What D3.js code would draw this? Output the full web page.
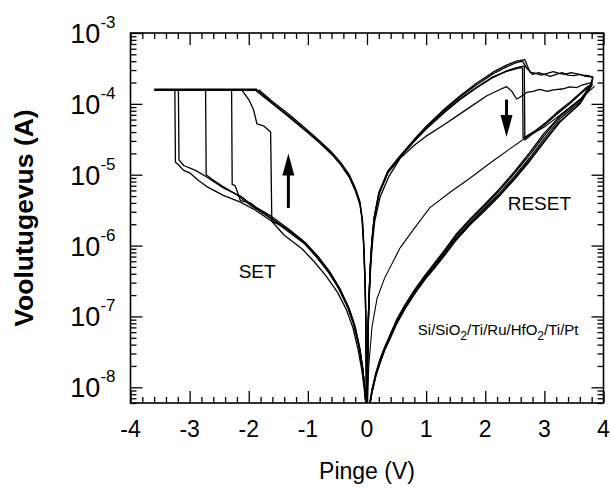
<!DOCTYPE html>
<html><head><meta charset="utf-8">
<script src="https://cdn.jsdelivr.net/npm/d3@7/dist/d3.min.js"></script>
<style>
body{margin:0;background:#fff}
text{font-family:"Liberation Sans",Arial,Helvetica,sans-serif;fill:#000}
</style></head>
<body><svg id="chart" width="611" height="490"></svg>
<script>
// ---------- tick labels ----------
const xTickValues = [-4,-3,-2,-1,0,1,2,3,4];
const yTickExponents = [-3,-4,-5,-6,-7,-8];

// ---------- data: [voltage V, current A] ----------
const compliance = [[-3.6,1.58e-4],[-1.86,1.58e-4]];

// SET sweeps (HRS, 0 -> negative) ending with abrupt/gradual jump to compliance
const setA = [[-0.02,6e-9],[-0.05,1.0e-8],[-0.09,1.8e-8],[-0.15,3.4e-8],[-0.24,7.0e-8],[-0.35,1.25e-7],[-0.5,2.2e-7],[-0.7,3.8e-7],[-0.9,6.0e-7],[-1.1,9.0e-7],[-1.4,1.4e-6],[-1.61,2.2e-6],[-1.9,3.2e-6],[-2.14,4.1e-6],[-2.43,5.1e-6],[-2.71,6.8e-6],[-2.85,8.3e-6],[-2.99,1.05e-5],[-3.1,1.15e-5],[-3.19,1.38e-5],[-3.24,1.5e-5],[-3.25,1.58e-4]];
const setB = [[-0.02,6e-9],[-0.04,1.0e-8],[-0.07,1.8e-8],[-0.12,3.5e-8],[-0.2,7.1e-8],[-0.3,1.26e-7],[-0.45,2.3e-7],[-0.62,4.0e-7],[-0.8,6.3e-7],[-1.02,1.02e-6],[-1.3,1.58e-6],[-1.61,2.4e-6],[-1.9,3.5e-6],[-2.14,5.0e-6],[-2.43,6.5e-6],[-2.71,9.3e-6],[-2.9,1.15e-5],[-3.1,1.35e-5],[-3.18,1.62e-5],[-3.19,1.58e-4]];
const setC = [[-0.02,6e-9],[-0.045,1.1e-8],[-0.08,2.0e-8],[-0.13,3.6e-8],[-0.22,7.5e-8],[-0.32,1.3e-7],[-0.47,2.4e-7],[-0.65,4.2e-7],[-0.85,6.8e-7],[-1.05,1.05e-6],[-1.35,1.62e-6],[-1.65,2.5e-6],[-1.95,3.6e-6],[-2.2,5.2e-6],[-2.45,6.9e-6],[-2.62,8.6e-6],[-2.72,1.0e-5],[-2.73,1.58e-4]];
const setD = [[-0.02,6e-9],[-0.04,1.05e-8],[-0.075,1.9e-8],[-0.125,3.6e-8],[-0.21,7.6e-8],[-0.31,1.35e-7],[-0.46,2.5e-7],[-0.63,4.3e-7],[-0.82,6.9e-7],[-1.04,1.1e-6],[-1.32,1.7e-6],[-1.62,2.6e-6],[-1.86,3.4e-6],[-1.97,4.0e-6],[-2.14,4.3e-6],[-2.17,5.1e-6],[-2.23,7.0e-6],[-2.28,7.3e-6],[-2.29,1.58e-4]];
const setE = [[-0.02,6e-9],[-0.05,1.2e-8],[-0.085,2.1e-8],[-0.14,4.0e-8],[-0.23,8.0e-8],[-0.34,1.45e-7],[-0.5,2.7e-7],[-0.68,4.6e-7],[-0.88,7.4e-7],[-1.1,1.2e-6],[-1.35,1.7e-6],[-1.5,2.0e-6],[-1.61,2.2e-6],[-1.63,4.0e-5],[-1.75,4.9e-5],[-1.86,5.2e-5],[-1.92,8.3e-5],[-2.0,1.15e-4],[-2.12,1.58e-4]];

// LRS return branches (negative side, compliance -> 0)
const onNegA = [[-1.86,1.58e-4],[-1.6,1.03e-4],[-1.3,6.5e-5],[-1.0,4.0e-5],[-0.8,2.9e-5],[-0.6,2.0e-5],[-0.45,1.45e-5],[-0.3,9.5e-6],[-0.2,6.3e-6],[-0.12,4.0e-6],[-0.08,2.3e-6],[-0.055,1.0e-6],[-0.035,3.5e-7],[-0.02,1.0e-7],[-0.008,6e-9]];
const onNegB = [[-1.83,1.58e-4],[-1.6,1.08e-4],[-1.3,6.9e-5],[-1.0,4.2e-5],[-0.8,3.0e-5],[-0.6,2.1e-5],[-0.45,1.5e-5],[-0.3,1.0e-5],[-0.2,6.6e-6],[-0.12,4.2e-6],[-0.075,2.2e-6],[-0.05,9.0e-7],[-0.03,3.0e-7],[-0.017,8.0e-8],[-0.006,6e-9]];
const onNegC = [[-1.9,1.58e-4],[-1.6,1.0e-4],[-1.3,6.3e-5],[-1.0,3.9e-5],[-0.8,2.8e-5],[-0.6,1.95e-5],[-0.45,1.4e-5],[-0.3,9.2e-6],[-0.2,6.0e-6],[-0.12,3.8e-6],[-0.085,2.4e-6],[-0.06,1.1e-6],[-0.04,4.0e-7],[-0.022,1.1e-7],[-0.01,6e-9]];

// RESET sweeps (0 -> +3.8 V -> 0)
const reset1 = [[0.003,6e-9],[0.01,2.5e-8],[0.02,8e-8],[0.035,2e-7],[0.055,5e-7],[0.08,1.12e-6],[0.12,2.5e-6],[0.2,5.6e-6],[0.35,1.12e-5],[0.56,1.86e-5],[0.8,3.16e-5],[1.0,4.8e-5],[1.3,8.3e-5],[1.57,1.29e-4],[1.85,1.95e-4],[2.13,2.8e-4],[2.35,3.5e-4],[2.53,4.0e-4],[2.67,4.2e-4],[2.72,3.3e-4],[2.76,2.8e-4],[2.85,2.7e-4],[2.95,2.55e-4],[3.05,2.7e-4],[3.15,2.85e-4],[3.25,2.7e-4],[3.35,2.6e-4],[3.45,2.75e-4],[3.55,2.65e-4],[3.65,2.55e-4],[3.75,2.5e-4],[3.82,2.35e-4],[3.8,1.9e-4],[3.6,1.12e-4],[3.26,6.6e-5],[3.0,3.6e-5],[2.75,1.9e-5],[2.5,1.06e-5],[2.24,6.0e-6],[2.0,3.7e-6],[1.74,2.25e-6],[1.5,1.35e-6],[1.32,8.4e-7],[1.15,5.6e-7],[0.98,3.7e-7],[0.8,2.25e-7],[0.64,1.4e-7],[0.5,8.6e-8],[0.39,5.3e-8],[0.3,3.6e-8],[0.22,2.4e-8],[0.15,1.55e-8],[0.084,9e-9],[0.05,6e-9]];
const reset2 = [[0.004,6e-9],[0.012,2.8e-8],[0.022,8.5e-8],[0.037,2.1e-7],[0.058,5.2e-7],[0.085,1.15e-6],[0.125,2.5e-6],[0.21,5.5e-6],[0.36,1.1e-5],[0.57,1.8e-5],[0.8,3.05e-5],[1.0,4.6e-5],[1.3,8.0e-5],[1.57,1.24e-4],[1.85,1.85e-4],[2.13,2.65e-4],[2.35,3.3e-4],[2.52,3.8e-4],[2.63,4.0e-4],[2.7,3.2e-4],[2.8,2.6e-4],[2.9,2.75e-4],[3.0,2.6e-4],[3.1,2.45e-4],[3.2,2.6e-4],[3.3,2.75e-4],[3.4,2.55e-4],[3.5,2.5e-4],[3.6,2.6e-4],[3.7,2.45e-4],[3.82,2.4e-4],[3.78,1.85e-4],[3.6,1.0e-4],[3.26,5.5e-5],[3.0,2.9e-5],[2.75,1.55e-5],[2.5,8.7e-6],[2.24,5.0e-6],[2.0,3.15e-6],[1.74,1.95e-6],[1.5,1.17e-6],[1.32,7.4e-7],[1.15,4.9e-7],[0.98,3.3e-7],[0.8,2.05e-7],[0.64,1.27e-7],[0.5,7.8e-8],[0.39,4.9e-8],[0.3,3.35e-8],[0.22,2.2e-8],[0.15,1.45e-8],[0.084,8.5e-9],[0.055,6e-9]];
const reset3 = [[0.005,6e-9],[0.013,2.6e-8],[0.024,8e-8],[0.04,2.0e-7],[0.062,4.8e-7],[0.09,1.05e-6],[0.13,2.2e-6],[0.22,4.8e-6],[0.37,9.5e-6],[0.56,1.7e-5],[0.8,2.6e-5],[1.0,3.5e-5],[1.29,5.0e-5],[1.68,8.3e-5],[2.02,1.29e-4],[2.24,1.58e-4],[2.36,1.75e-4],[2.45,1.5e-4],[2.53,1.17e-4],[2.58,1.23e-4],[2.7,1.45e-4],[2.81,1.5e-4],[2.92,1.6e-4],[3.05,1.5e-4],[3.15,1.58e-4],[3.3,1.62e-4],[3.43,1.74e-4],[3.55,1.7e-4],[3.65,1.86e-4],[3.8,2.0e-4],[3.79,1.75e-4],[3.62,1.18e-4],[3.3,7.2e-5],[3.0,3.9e-5],[2.75,2.05e-5],[2.5,1.12e-5],[2.24,6.3e-6],[2.0,3.9e-6],[1.74,2.35e-6],[1.5,1.42e-6],[1.32,8.8e-7],[1.15,5.8e-7],[0.98,3.8e-7],[0.8,2.35e-7],[0.64,1.45e-7],[0.5,9.0e-8],[0.39,5.5e-8],[0.3,3.7e-8],[0.22,2.5e-8],[0.15,1.6e-8],[0.084,9.3e-9],[0.045,6e-9]];
const reset4 = [[0.004,6e-9],[0.011,2.6e-8],[0.021,8e-8],[0.036,2e-7],[0.056,5e-7],[0.082,1.1e-6],[0.12,2.4e-6],[0.2,5.4e-6],[0.35,1.08e-5],[0.56,1.8e-5],[0.8,3.0e-5],[1.0,4.5e-5],[1.3,7.6e-5],[1.57,1.17e-4],[1.85,1.7e-4],[2.13,2.4e-4],[2.35,2.85e-4],[2.5,3.1e-4],[2.6,3.25e-4],[2.63,3.2e-4],[2.64,3.3e-5],[2.7,3.5e-5],[2.85,4.2e-5],[3.03,5.5e-5],[3.2,7.4e-5],[3.43,1.05e-4],[3.6,1.4e-4],[3.71,1.7e-4],[3.8,1.9e-4],[3.78,1.8e-4],[3.6,1.06e-4],[3.26,6.1e-5],[3.0,3.25e-5],[2.75,1.72e-5],[2.5,9.6e-6],[2.24,5.5e-6],[2.0,3.45e-6],[1.74,2.1e-6],[1.5,1.27e-6],[1.32,8.0e-7],[1.15,5.35e-7],[0.98,3.55e-7],[0.8,2.18e-7],[0.64,1.35e-7],[0.5,8.3e-8],[0.39,5.1e-8],[0.3,3.5e-8],[0.22,2.3e-8],[0.15,1.5e-8],[0.084,8.7e-9],[0.05,6e-9]];
const reset5 = [[0.003,6e-9],[0.01,2.4e-8],[0.02,7.6e-8],[0.034,1.9e-7],[0.054,4.8e-7],[0.08,1.08e-6],[0.12,2.35e-6],[0.2,5.3e-6],[0.35,1.05e-5],[0.56,1.75e-5],[0.8,2.95e-5],[1.0,4.4e-5],[1.3,7.4e-5],[1.57,1.14e-4],[1.85,1.68e-4],[2.13,2.35e-4],[2.35,2.9e-4],[2.5,3.2e-4],[2.6,3.35e-4],[2.66,3.4e-4],[2.67,3.1e-5],[2.8,3.8e-5],[3.0,5.0e-5],[3.2,7.0e-5],[3.43,1.0e-4],[3.6,1.35e-4],[3.72,1.65e-4],[3.81,1.85e-4],[3.79,1.76e-4],[3.6,1.0e-4],[3.26,5.6e-5],[3.0,3.0e-5],[2.75,1.6e-5],[2.5,9.0e-6],[2.24,5.2e-6],[2.0,3.3e-6],[1.74,2.0e-6],[1.5,1.22e-6],[1.32,7.6e-7],[1.15,5.1e-7],[0.98,3.45e-7],[0.8,2.1e-7],[0.64,1.3e-7],[0.5,8.0e-8],[0.39,4.9e-8],[0.3,3.4e-8],[0.22,2.2e-8],[0.15,1.45e-8],[0.084,8.5e-9],[0.052,6e-9]];
// thin HRS sweep from origin to +3.85 V
const hrsThin = [[0.008,6e-9],[0.03,2.0e-8],[0.084,7.1e-8],[0.17,1.8e-7],[0.3,3.5e-7],[0.56,9.3e-7],[0.8,1.75e-6],[1.06,3.4e-6],[1.4,5.6e-6],[1.74,8.9e-6],[2.1,1.5e-5],[2.41,2.3e-5],[2.7,3.4e-5],[3.0,4.7e-5],[3.3,7.3e-5],[3.6,1.15e-4],[3.85,1.78e-4]];

// annotation anchors (data coordinates)
const arrowSet = [[-1.33,3.4e-6],[-1.33,2.0e-5]];
const arrowReset = [[2.36,1.15e-4],[2.36,3.4e-5]];

// ---------- scales ----------
const svg = d3.select("#chart");
const L=130.5, R=603.5, T=33, B=403;
const x = d3.scaleLinear().domain([-4,4]).range([L,R]);
const y = d3.scaleLog().domain([6e-9,1e-3]).range([B,T]);

// ---------- axes ----------
const xMinor = d3.range(-40,41,2).map(v=>v/10).filter(v=>Math.abs(v-Math.round(v))>1e-6);
const yMinor = [];
for (let e=-9;e<=-4;e++) for (let k=2;k<=9;k++){const v=k*Math.pow(10,e); if(v>=6e-9&&v<=1e-3) yMinor.push(v);}
const yMajor = yTickExponents.map(e=>Math.pow(10,e));

function styleAxis(g){ g.select(".domain").remove(); g.selectAll("line").attr("stroke","#000").attr("stroke-width",1.3); g.selectAll("text").remove(); }
svg.append("g").attr("transform",`translate(0,${B})`).call(d3.axisBottom(x).tickValues(xTickValues).tickSize(-12)).call(styleAxis);
svg.append("g").attr("transform",`translate(0,${B})`).call(d3.axisBottom(x).tickValues(xMinor).tickSize(-6)).call(styleAxis);
svg.append("g").attr("transform",`translate(0,${T})`).call(d3.axisTop(x).tickValues(xTickValues).tickSize(-12)).call(styleAxis);
svg.append("g").attr("transform",`translate(0,${T})`).call(d3.axisTop(x).tickValues(xMinor).tickSize(-6)).call(styleAxis);
svg.append("g").attr("transform",`translate(${L},0)`).call(d3.axisLeft(y).tickValues(yMajor).tickSize(-12)).call(styleAxis);
svg.append("g").attr("transform",`translate(${L},0)`).call(d3.axisLeft(y).tickValues(yMinor).tickSize(-6)).call(styleAxis);
svg.append("g").attr("transform",`translate(${R},0)`).call(d3.axisRight(y).tickValues(yMajor).tickSize(-12)).call(styleAxis);
svg.append("g").attr("transform",`translate(${R},0)`).call(d3.axisRight(y).tickValues(yMinor).tickSize(-6)).call(styleAxis);
svg.append("rect").attr("x",L).attr("y",T).attr("width",R-L).attr("height",B-T).attr("fill","none").attr("stroke","#000").attr("stroke-width",1.6);

// tick labels
svg.append("g").selectAll("text").data(xTickValues).join("text")
  .attr("x",d=>x(d)).attr("y",B+34).attr("text-anchor","middle").attr("font-size",23).text(d=>String(d));
const yl = svg.append("g").selectAll("text").data(yTickExponents).join("text")
  .attr("x",L-15).attr("y",d=>y(Math.pow(10,d))+10).attr("text-anchor","end").attr("font-size",27);
yl.append("tspan").text("10");
yl.append("tspan").attr("dy",-15).attr("font-size",17).text(d=>String(d));

// axis titles
svg.append("text").attr("x",x(0)).attr("y",479).attr("text-anchor","middle").attr("font-size",23).text("Pinge (V)");
svg.append("text").attr("transform","rotate(-90)").attr("x",-218).attr("y",33).attr("text-anchor","middle")
  .attr("font-size",26.5).attr("font-weight","bold").text("Voolutugevus (A)");

// ---------- curves ----------
const line = d3.line().x(d=>x(d[0])).y(d=>y(d[1]));
const plot = svg.append("g");
[setA,setB,setC,setD,setE,onNegA,onNegB,onNegC,reset1,reset2,reset3,reset4,reset5].forEach(s=>{
  plot.append("path").datum(s).attr("d",line).attr("fill","none").attr("stroke","#000").attr("stroke-width",1.3).attr("stroke-linejoin","round");
});
plot.append("path").datum(hrsThin).attr("d",line).attr("fill","none").attr("stroke","#000").attr("stroke-width",1.1);
plot.append("path").datum(compliance).attr("d",line).attr("fill","none").attr("stroke","#000").attr("stroke-width",2.6);

// ---------- arrows ----------
function arrow(pts){
  const x0=x(pts[0][0]), y0=y(pts[0][1]), y1=y(pts[1][1]);
  const dir = y1<y0 ? 1 : -1; // 1 = upward
  const headLen=22, headW=6;
  svg.append("line").attr("x1",x0).attr("x2",x0).attr("y1",y0).attr("y2",y1+dir*headLen*0.8).attr("stroke","#000").attr("stroke-width",3);
  svg.append("path").attr("d",`M${x0},${y1} L${x0-headW},${y1+dir*headLen} L${x0+headW},${y1+dir*headLen} Z`).attr("fill","#000");
}
arrow(arrowSet); arrow(arrowReset);

// ---------- labels ----------
svg.append("text").attr("x",x(-2.17)).attr("y",y(3.5e-7)).attr("font-size",19).text("SET");
svg.append("text").attr("x",x(2.38)).attr("y",y(3.2e-6)).attr("font-size",19).text("RESET");
const st = svg.append("text").attr("x",x(0.86)).attr("y",y(5.5e-8)).attr("font-size",15);
st.append("tspan").text("Si/SiO");
st.append("tspan").attr("dy",5).attr("font-size",12).text("2");
st.append("tspan").attr("dy",-5).text("/Ti/Ru/HfO");
st.append("tspan").attr("dy",5).attr("font-size",12).text("2");
st.append("tspan").attr("dy",-5).text("/Ti/Pt");
</script></body></html>
